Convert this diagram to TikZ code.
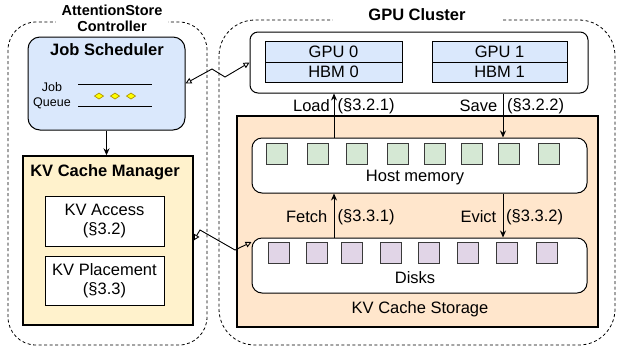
\documentclass[tikz,border=0pt]{standalone}
\usepackage{fontspec}
\setmainfont{Liberation Sans}
\usetikzlibrary{arrows.meta}
\definecolor{bluefill}{HTML}{DAE8FC}
\definecolor{yellowfill}{HTML}{FFF2CC}
\definecolor{peachfill}{HTML}{FFE6CC}
\definecolor{greenfill}{HTML}{D5E8D4}
\definecolor{purplefill}{HTML}{E1D5E7}
\definecolor{sqborder}{HTML}{3A3A3A}
\definecolor{diamfill}{HTML}{FFFF00}
\definecolor{diamborder}{HTML}{B09500}
\begin{document}
\begin{tikzpicture}[x=1pt,y=-1pt,
  txt/.style={font=\fontsize{16.5}{19}\selectfont, inner sep=0pt},
  btxt/.style={font=\fontsize{16.5}{19}\selectfont\bfseries, inner sep=0pt},
  stxt/.style={font=\fontsize{12.5}{15}\selectfont, inner sep=0pt, align=center},
  cont/.style={draw, line width=0.8pt, dash pattern=on 3pt off 2.5pt},
  boxx/.style={draw, line width=1pt, inner sep=0pt},
  thick box/.style={draw, line width=1.4pt, inner sep=0pt},
  sq/.style={draw=sqborder, line width=0.9pt, minimum width=21pt, minimum height=21pt, inner sep=0pt},
  arr/.style={line width=0.9pt, -{Stealth[length=7pt,width=6pt]}},
  zz/.style={line width=0.9pt, {Triangle[open,length=6pt,width=6pt]}-{Triangle[open,length=6pt,width=6pt]}},
  qline/.style={line width=1pt}
]
\useasboundingbox (0,0) rectangle (617,349);

% containers
\draw[cont, rounded corners=28pt] (8,22) rectangle (207,345);
\draw[cont, rounded corners=36pt] (219,20) rectangle (615,345);
\node[btxt, font=\fontsize{14.5}{16}\selectfont\bfseries, align=center, fill=white, minimum width=112pt, inner sep=1pt] (ctitle) at (112,18) {AttentionStore\\Controller};
\node[btxt, fill=white, minimum width=168pt, minimum height=14pt] (gtitle) at (417,15) {GPU Cluster};

% Job scheduler
\node[boxx, fill=bluefill, rounded corners=12pt, minimum width=157pt, minimum height=93pt] (js) at (106.5,83.5) {};
\node[btxt] (jstitle) at (107,50) {Job Scheduler};
\node[stxt] (jq) at (52,96) {Job\\Queue};
\coordinate (q1a) at (78,84); \coordinate (q1b) at (152,84);
\coordinate (q2a) at (78,106.5); \coordinate (q2b) at (152,106.5);
\draw[qline] (q1a) -- (q1b);
\draw[qline] (q2a) -- (q2b);
\foreach \x in {99,115,131}{
  \draw[fill=diamfill, draw=diamborder, line width=0.7pt] (\x-4.5,96) -- (\x,93) -- (\x+4.5,96) -- (\x,99) -- cycle;
}

% KV cache manager
\node[thick box, fill=yellowfill, minimum width=170pt, minimum height=169pt] (kvm) at (108,240.5) {};
\node[btxt] (kvmtitle) at (105,172) {KV Cache Manager};
\node[boxx, fill=white, minimum width=119pt, minimum height=50pt, txt, align=center] (kva) at (104.5,221) {KV Access\\(§3.2)};
\node[boxx, fill=white, minimum width=119pt, minimum height=49pt, txt, align=center] (kvp) at (104.5,280.5) {KV Placement\\(§3.3)};

\draw[arr] (js.south) -- (js.south |- kvm.north);

% GPU cluster
\node[boxx, fill=white, rounded corners=8pt, minimum width=338pt, minimum height=61pt] (gpubox) at (419,62.5) {};
\node[boxx, fill=bluefill, minimum width=137pt, minimum height=21pt, txt] (gpu0) at (333.5,51.5) {GPU 0};
\node[boxx, fill=bluefill, minimum width=137pt, minimum height=20pt, txt] (hbm0) at (333.5,72) {HBM 0};
\node[boxx, fill=bluefill, minimum width=135pt, minimum height=21pt, txt] (gpu1) at (499.5,51.5) {GPU 1};
\node[boxx, fill=bluefill, minimum width=135pt, minimum height=20pt, txt] (hbm1) at (499.5,72) {HBM 1};

% KV cache storage
\node[thick box, fill=peachfill, minimum width=361pt, minimum height=211pt] (stor) at (417.5,221.5) {};
\node[txt] (stortitle) at (420,309) {KV Cache Storage};
\node[boxx, fill=white, rounded corners=10pt, minimum width=335pt, minimum height=55pt] (host) at (419.5,165.5) {};
\node[txt] (hostlabel) at (415,178) {Host memory};
\foreach \x [count=\i] in {277,318,357,398,435,472,509,549}{
  \node[sq, fill=greenfill] (h\i) at (\x,154) {};
}
\node[boxx, fill=white, rounded corners=10pt, minimum width=335pt, minimum height=55pt] (disks) at (419.5,265.5) {};
\node[txt] (disklabel) at (415,278) {Disks};
\foreach \x [count=\i] in {279,317,352,391,429,468,507,547}{
  \node[sq, fill=purplefill] (d\i) at (\x,252.5) {};
}

% vertical transfers
\coordinate (lx) at (334,0);
\coordinate (rx) at (503,0);
\draw[arr] (host.north -| lx) -- (gpubox.south -| lx);
\draw[arr] (gpubox.south -| rx) -- (host.north -| rx);
\draw[arr] (disks.north -| lx) -- (host.south -| lx);
\draw[arr] (host.south -| rx) -- (disks.north -| rx);
\node[txt, anchor=east] (loadl) at (330,106) {Load};
\node[txt, anchor=west] (loadr) at (337.5,106) {(§3.2.1)};
\node[txt, anchor=east] (savel) at (497.5,106) {Save};
\node[txt, anchor=west] (saver) at (507,106) {(§3.2.2)};
\node[txt, anchor=east] (fetchl) at (327.5,217) {Fetch};
\node[txt, anchor=west] (fetchr) at (337.5,217) {(§3.3.1)};
\node[txt, anchor=east] (evictl) at (496.5,217) {Evict};
\node[txt, anchor=west] (evictr) at (506,217) {(§3.3.2)};

% zigzag links
\coordinate (z1a) at (212,69);
\coordinate (z1b) at (225,77);
\draw[zz] (js.east) -- (z1a) -- (z1b) -- (gpubox.west);
\coordinate (z2a) at (200,230);
\coordinate (z2b) at (235,250);
\coordinate (z2c) at (0,242);
\draw[zz] (kvm.east) -- (z2a) -- (z2b) -- (disks.west |- z2c);
\end{tikzpicture}
\end{document}
